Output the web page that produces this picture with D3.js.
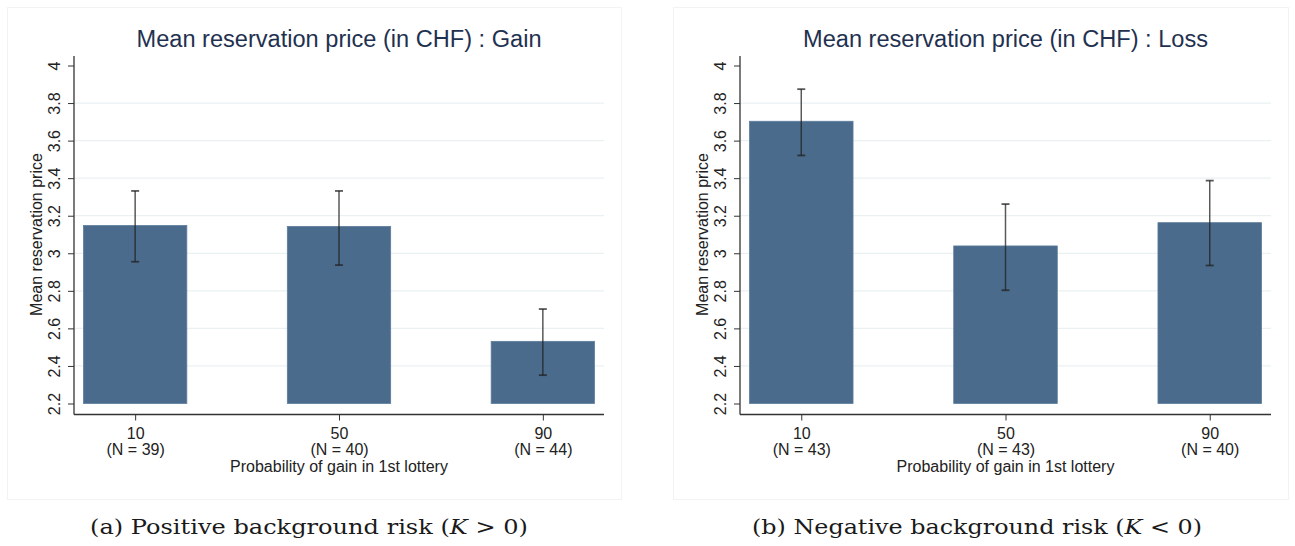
<!DOCTYPE html>
<html>
<head>
<meta charset="utf-8">
<script src="https://cdn.jsdelivr.net/npm/d3@7"></script>
<style>
  body { margin: 0; background: #fff; }
  svg { display: block; }
</style>
</head>
<body>
<svg width="1295" height="546"></svg>
<script>
// data
const categories = ['10', '50', '90'];
const yTicks = [2.2, 2.4, 2.6, 2.8, 3, 3.2, 3.4, 3.6, 3.8, 4];

const gainMeans = [3.148, 3.143, 2.531];
const gainLow = [2.955, 2.937, 2.351];
const gainHigh = [3.332, 3.332, 2.703];
const gainN = [39, 40, 44];

const lossMeans = [3.703, 3.039, 3.163];
const lossLow = [3.521, 2.803, 2.935];
const lossHigh = [3.874, 3.262, 3.387];
const lossN = [43, 43, 40];

const panels = [
  { title: 'Mean reservation price (in CHF) : Gain', means: gainMeans, low: gainLow, high: gainHigh, n: gainN,
    left: 74, right: 604, box: [7, 621], caption: ['(a) Positive background risk (', 'K', ' > 0)'], capX: 309, capW: 438 },
  { title: 'Mean reservation price (in CHF) : Loss', means: lossMeans, low: lossLow, high: lossHigh, n: lossN,
    left: 740, right: 1271, box: [673, 1288], caption: ['(b) Negative background risk (', 'K', ' < 0)'], capX: 977, capW: 450 }
];

const svg = d3.select('svg');
const plotTop = 65.5, plotBottom = 403.5, axisY = 414.5;
const y = d3.scaleLinear().domain([2.2, 4]).range([plotBottom, plotTop]);
const sans = '"Liberation Sans", Arial, sans-serif';

panels.forEach(p => {
  const g = svg.append('g');

  // faint panel frame
  g.append('rect')
    .attr('x', p.box[0] + 0.5).attr('y', 7.5)
    .attr('width', p.box[1] - p.box[0]).attr('height', 492)
    .attr('fill', 'none').attr('stroke', '#f1f3f4');

  const x = d3.scalePoint().domain(categories).range([p.left, p.right]).padding(0.3);
  const bw = x.step() * 0.507;

  // grid lines
  g.append('g').selectAll('line')
    .data(yTicks.slice(1, -1))
    .enter().append('line')
    .attr('x1', p.left).attr('x2', p.right)
    .attr('y1', d => y(d)).attr('y2', d => y(d))
    .attr('stroke', '#eaf1f3').attr('stroke-width', 1.3);

  // bars
  g.append('g').selectAll('rect')
    .data(p.means)
    .enter().append('rect')
    .attr('x', (d, i) => x(categories[i]) - bw / 2)
    .attr('width', bw)
    .attr('y', d => y(d))
    .attr('height', d => y(2.2) - y(d))
    .attr('fill', '#4a6b8c')
    .attr('stroke', '#5d7d9b').attr('stroke-width', 0.8);

  // error bars
  const err = g.append('g').attr('stroke', '#222').attr('stroke-opacity', 0.75).attr('stroke-width', 1.5);
  p.means.forEach((m, i) => {
    const cx = x(categories[i]);
    err.append('line').attr('x1', cx).attr('x2', cx).attr('y1', y(p.high[i])).attr('y2', y(p.low[i]));
    [p.high[i], p.low[i]].forEach(v => {
      err.append('line').attr('x1', cx - 4).attr('x2', cx + 4).attr('y1', y(v)).attr('y2', y(v)).attr('stroke-width', 1.8);
    });
  });

  // y axis
  const yAxis = g.append('g')
    .attr('transform', `translate(${p.left},0)`)
    .call(d3.axisLeft(y).tickValues(yTicks).tickSize(6).tickPadding(4).tickFormat(d3.format('')));
  yAxis.select('.domain').attr('d', `M0,56V${axisY}`).attr('stroke', '#333').attr('stroke-width', 1.3);
  yAxis.selectAll('.tick line').attr('stroke', '#333');
  yAxis.selectAll('.tick text')
    .attr('transform', 'rotate(-90)')
    .attr('x', 0).attr('y', -14)
    .attr('text-anchor', 'middle').attr('dy', 0)
    .attr('font-family', sans).attr('font-size', 16).attr('fill', '#222');

  // x axis
  const xAxis = g.append('g')
    .attr('transform', `translate(0,${axisY})`)
    .call(d3.axisBottom(x).tickSize(6).tickSizeOuter(0).tickPadding(4));
  xAxis.select('.domain').attr('d', `M${p.left},0H${p.right}`).attr('stroke', '#333').attr('stroke-width', 1.3);
  xAxis.selectAll('.tick line').attr('stroke', '#333');
  xAxis.selectAll('.tick text').remove();
  xAxis.selectAll('.tick').each(function (d, i) {
    const t = d3.select(this).append('text')
      .attr('text-anchor', 'middle')
      .attr('font-family', sans).attr('font-size', 16).attr('fill', '#222');
    t.append('tspan').attr('x', 0).attr('y', 24).text(d);
    t.append('tspan').attr('x', 0).attr('y', 40).text(`(N = ${p.n[i]})`);
  });

  g.append('text')
    .attr('x', (p.left + p.right) / 2).attr('y', 472)
    .attr('text-anchor', 'middle')
    .attr('font-family', sans).attr('font-size', 16).attr('fill', '#222')
    .text('Probability of gain in 1st lottery');

  // y title
  g.append('text')
    .attr('transform', `translate(${p.left - 32},${(plotTop + plotBottom) / 2}) rotate(-90)`)
    .attr('text-anchor', 'middle')
    .attr('font-family', sans).attr('font-size', 16).attr('fill', '#222')
    .text('Mean reservation price');

  // title
  g.append('text')
    .attr('x', (p.left + p.right) / 2).attr('y', 47)
    .attr('text-anchor', 'middle')
    .attr('font-family', sans).attr('font-size', 23).attr('fill', '#1f3150')
    .attr('textLength', 405).attr('lengthAdjust', 'spacingAndGlyphs')
    .text(p.title);

  // caption
  const cap = g.append('text')
    .attr('x', p.capX).attr('y', 534)
    .attr('text-anchor', 'middle')
    .attr('font-family', '"DejaVu Serif", "Liberation Serif", serif').attr('font-size', 21).attr('fill', '#1a1a1a')
    .attr('textLength', p.capW).attr('lengthAdjust', 'spacingAndGlyphs');
  cap.append('tspan').text(p.caption[0]);
  cap.append('tspan').attr('font-style', 'italic').text(p.caption[1]);
  cap.append('tspan').text(p.caption[2]);
});
</script>
</body>
</html>
